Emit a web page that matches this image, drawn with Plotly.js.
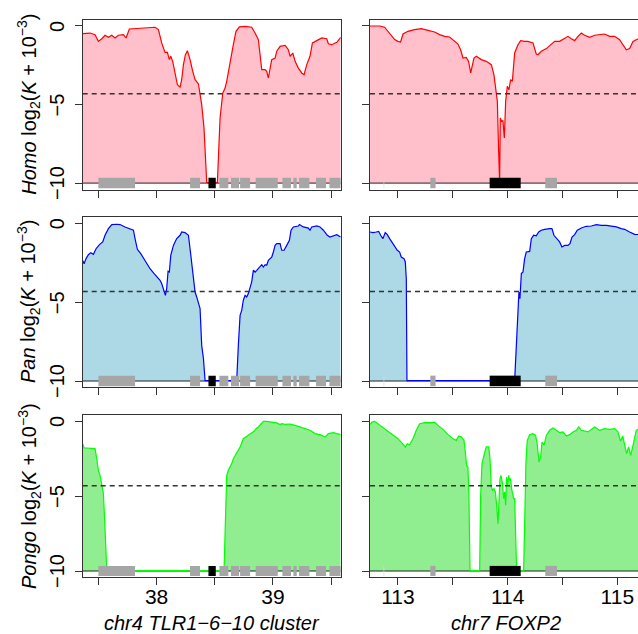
<!DOCTYPE html>
<html>
<head>
<meta charset="utf-8">
<script src="https://cdn.plot.ly/plotly-3.0.1.min.js"></script>
<style>
html, body { margin:0; padding:0; overflow:hidden; background:#fff; }
#chart { width:680px; height:634px; }
</style>
</head>
<body>
<div id="chart"></div>
<script>
// ---------- DATA (log2(K + 1e-3) along genomic position, Mb) ----------
const homoTlrX = [37.365,37.428,37.471,37.500,37.529,37.557,37.586,37.615,37.643,37.672,37.715,37.738,37.766,37.830,37.915,37.987,38.016,38.044,38.073,38.093,38.110,38.122,38.139,38.159,38.179,38.202,38.216,38.231,38.248,38.265,38.288,38.311,38.331,38.360,38.374,38.388,38.408,38.417,38.425,38.431,38.523,38.534,38.546,38.569,38.589,38.603,38.632,38.660,38.683,38.712,38.761,38.818,38.847,38.875,38.890,38.904,38.933,38.947,38.961,38.976,38.990,39.019,39.033,39.062,39.105,39.133,39.148,39.171,39.191,39.219,39.248,39.268,39.291,39.319,39.340,39.377,39.420,39.463,39.477,39.506,39.549,39.583];
const homoTlrY = [-0.49,-0.45,-0.55,-0.98,-0.81,-0.59,-0.72,-0.59,-0.76,-0.59,-0.55,-0.76,-0.19,-0.17,-0.13,-0.08,-0.23,-1.08,-1.68,-1.68,-2.14,-1.93,-2.25,-2.89,-3.74,-3.89,-3.42,-2.46,-1.83,-1.57,-2.14,-2.89,-3.42,-3.69,-4.27,-5.01,-6.50,-7.56,-9.04,-9.97,-9.97,-7.98,-5.86,-4.27,-3.95,-3.52,-2.25,-1.19,-0.34,-0.06,-0.02,-0.08,-0.45,-0.87,-1.83,-2.78,-2.78,-2.89,-3.31,-2.68,-2.14,-2.04,-1.61,-1.30,-1.23,-1.51,-1.93,-1.72,-2.25,-2.68,-2.99,-3.10,-2.46,-1.93,-1.08,-0.93,-0.76,-0.81,-1.13,-1.19,-1.04,-0.72];

const homoFoxX = [112.745,112.833,112.878,112.924,112.970,113.000,113.024,113.046,113.091,113.152,113.213,113.274,113.334,113.380,113.426,113.471,113.517,113.547,113.571,113.593,113.623,113.644,113.663,113.675,113.693,113.714,113.760,113.805,113.851,113.875,113.897,113.906,113.918,113.927,113.933,113.945,113.957,113.970,113.982,113.997,114.012,114.027,114.043,114.064,114.094,114.119,114.155,114.185,114.231,114.261,114.277,114.307,114.353,114.398,114.429,114.474,114.520,114.550,114.581,114.611,114.641,114.672,114.702,114.748,114.793,114.839,114.884,114.930,114.976,115.021,115.052,115.082,115.112,115.143,115.216];
const homoFoxY = [0,0,-0.08,-0.45,-0.87,-0.98,-1.02,-0.51,-0.34,-0.23,-0.17,-0.28,-0.38,-0.55,-0.66,-0.70,-0.98,-1.15,-1.51,-2.04,-2.00,-2.25,-2.99,-2.68,-2.04,-1.93,-2.14,-2.25,-2.46,-3.10,-4.16,-4.80,-7.98,-9.97,-5.86,-6.07,-6.03,-7.13,-4.80,-3.84,-4.06,-3.42,-3.52,-1.72,-1.19,-0.93,-0.98,-0.98,-1.08,-1.78,-1.83,-1.61,-1.44,-1.19,-0.98,-0.98,-0.81,-0.66,-0.81,-0.93,-0.66,-0.45,-0.59,-0.72,-0.59,-0.55,-0.51,-0.66,-0.66,-0.87,-1.23,-1.51,-1.44,-0.98,-0.72];

const panTlrX = [37.365,37.377,37.394,37.414,37.434,37.457,37.480,37.509,37.537,37.557,37.586,37.615,37.658,37.686,37.729,37.772,37.801,37.815,37.835,37.864,37.901,37.944,37.979,38.007,38.030,38.044,38.059,38.076,38.087,38.099,38.110,38.122,38.145,38.173,38.202,38.216,38.245,38.274,38.288,38.302,38.317,38.331,38.345,38.360,38.374,38.388,38.403,38.417,38.689,38.703,38.718,38.732,38.746,38.761,38.775,38.789,38.804,38.818,38.832,38.847,38.861,38.875,38.890,38.904,38.918,38.933,38.947,38.961,38.976,38.990,39.004,39.019,39.033,39.062,39.076,39.096,39.119,39.142,39.156,39.176,39.219,39.228,39.262,39.305,39.319,39.334,39.377,39.405,39.434,39.468,39.491,39.520,39.549,39.583];
const panTlrY = [-2.35,-2.56,-2.24,-1.99,-1.86,-1.97,-1.61,-1.35,-1.18,-0.76,-0.34,-0.08,-0.06,-0.08,-0.23,-0.34,-0.44,-0.97,-1.65,-1.92,-2.35,-2.88,-3.19,-3.40,-3.61,-3.82,-4.25,-4.57,-4.14,-3.04,-3.09,-2.03,-1.40,-0.97,-0.76,-0.55,-0.59,-0.76,-1.61,-2.45,-3.61,-4.36,-4.67,-5.10,-5.41,-7.74,-8.58,-9.97,-9.97,-7.74,-5.84,-5.52,-4.88,-4.57,-4.67,-4.46,-4.04,-3.72,-2.98,-3.09,-2.98,-2.88,-2.77,-2.62,-2.77,-2.62,-2.66,-2.35,-2.24,-2.14,-1.82,-1.40,-1.29,-1.29,-1.71,-1.71,-1.40,-1.08,-0.44,-0.23,-0.17,-0.08,-0.23,-0.30,-0.44,-0.23,-0.17,-0.23,-0.44,-0.76,-0.87,-0.80,-0.72,-0.87];

const panFoxX = [112.745,112.772,112.802,112.824,112.842,112.863,112.884,112.903,112.924,112.945,112.970,112.994,113.015,113.030,113.055,113.067,113.076,113.082,114.064,114.079,114.094,114.103,114.112,114.125,114.140,114.155,114.170,114.201,114.216,114.237,114.261,114.283,114.307,114.337,114.383,114.404,114.422,114.444,114.474,114.495,114.520,114.550,114.568,114.587,114.611,114.635,114.672,114.717,114.763,114.809,114.854,114.900,114.945,114.991,115.036,115.067,115.112,115.158,115.216];
const panFoxY = [-0.55,-0.59,-0.55,-0.51,-0.76,-0.97,-0.59,-0.72,-0.97,-1.18,-1.40,-1.71,-1.82,-2.14,-2.24,-2.45,-3.51,-9.97,-9.97,-7.74,-4.99,-4.36,-4.78,-3.19,-3.09,-2.24,-1.82,-1.78,-0.97,-0.76,-0.80,-0.55,-0.44,-0.38,-0.34,-0.34,-0.76,-0.97,-1.18,-1.50,-1.40,-1.40,-1.29,-0.87,-0.72,-0.44,-0.30,-0.19,-0.17,-0.08,-0.13,-0.13,-0.17,-0.23,-0.34,-0.38,-0.55,-0.70,-0.72];

const pongoTlrX = [37.365,37.377,37.400,37.443,37.471,37.486,37.500,37.514,37.529,37.543,37.557,37.572,38.580,38.595,38.603,38.617,38.632,38.646,38.660,38.689,38.718,38.746,38.775,38.809,38.838,38.855,38.875,38.904,38.918,38.947,38.990,39.033,39.062,39.076,39.105,39.148,39.191,39.234,39.277,39.319,39.362,39.405,39.448,39.477,39.520,39.549,39.583];
const pongoTlrY = [-1.51,-1.80,-1.80,-1.80,-1.84,-2.51,-3.29,-3.62,-4.40,-4.84,-7.18,-9.97,-9.97,-6.07,-3.62,-3.29,-3.07,-2.84,-2.51,-2.07,-1.73,-1.18,-1.00,-0.84,-0.69,-0.51,-0.40,-0.18,-0.02,-0.02,-0.07,-0.13,-0.24,-0.18,-0.22,-0.20,-0.29,-0.40,-0.51,-0.62,-0.84,-0.91,-1.07,-0.84,-0.78,-0.84,-0.91];

const pongoFoxX = [112.745,112.763,112.787,112.818,112.878,112.939,113.000,113.055,113.067,113.085,113.106,113.137,113.167,113.198,113.243,113.304,113.334,113.365,113.410,113.456,113.502,113.532,113.553,113.578,113.602,113.614,113.626,113.638,113.647,113.657,113.745,113.754,113.766,113.784,113.805,113.827,113.839,113.851,113.863,113.875,113.888,113.900,113.912,113.921,113.930,113.939,113.951,113.964,113.973,113.982,113.991,114.000,114.009,114.018,114.027,114.036,114.046,114.055,114.064,114.073,114.082,114.146,114.155,114.167,114.179,114.201,114.231,114.255,114.271,114.286,114.301,114.313,114.331,114.353,114.383,114.413,114.444,114.474,114.505,114.535,114.565,114.596,114.626,114.647,114.672,114.702,114.733,114.763,114.793,114.839,114.884,114.930,114.976,115.006,115.030,115.049,115.067,115.085,115.103,115.122,115.143,115.158,115.173,115.216];
const pongoFoxY = [-0.24,-0.07,-0.02,-0.18,-0.51,-0.84,-1.18,-1.62,-1.73,-1.51,-1.58,-1.18,-0.62,-0.18,-0.11,-0.11,-0.07,-0.29,-0.56,-0.91,-1.18,-1.29,-1.00,-1.07,-1.29,-2.07,-2.96,-3.07,-4.96,-9.97,-9.97,-4.96,-2.84,-2.29,-1.73,-1.73,-2.51,-4.40,-4.62,-4.51,-4.73,-5.62,-6.84,-5.40,-3.84,-3.62,-4.07,-5.18,-4.73,-5.62,-3.73,-4.29,-3.62,-3.96,-3.84,-4.51,-4.84,-5.18,-5.18,-8.29,-9.97,-9.97,-6.07,-2.73,-1.29,-0.91,-0.84,-0.96,-1.62,-2.73,-2.40,-1.40,-1.62,-0.96,-0.62,-0.47,-0.62,-0.78,-0.73,-1.00,-0.91,-0.73,-0.62,-0.40,-0.62,-0.69,-0.73,-0.56,-0.40,-0.62,-0.51,-0.56,-0.51,-0.73,-1.36,-1.00,-1.51,-2.18,-1.73,-2.29,-1.62,-1.07,-0.62,-0.47];

// significance threshold (log2 scale)
const threshold = -4.32;

// gene annotations (Mb)
const tlrGeneStart = [37.500,38.288,38.540,38.640,38.718,38.852,39.082,39.176,39.225,39.371,39.486];
const tlrGeneEnd   = [37.815,38.374,38.617,38.709,38.804,39.042,39.156,39.205,39.314,39.457,39.583];
const tlrFocalStart = [38.446];
const tlrFocalEnd   = [38.509];
const foxGeneStart = [113.295,114.343];
const foxGeneEnd   = [113.343,114.450];
const foxFaintStart = [112.869];
const foxFaintEnd   = [112.875];
const foxFocalStart = [113.836];
const foxFocalEnd   = [114.119];

// tick positions and labels
const tlrMajorTicks = [38,39];
const tlrMajorText = ['38','39'];
const tlrMinorTicks = [37.5,38.5,39.5];
const foxMajorTicks = [113,114,115];
const foxMajorText = ['113','114','115'];
const foxMinorTicks = [113.5,114.5];
const yTickVals = [-10,-5,0];
const yTickText = ['\u221210','\u22125','0'];

const species = ['Homo','Pan','Pongo'];
const regionTitles = ['<i>chr4 TLR1\u22126\u221210 cluster</i>','<i>chr7 FOXP2</i>'];

// ---------- LAYOUT / STYLE ----------
const W = 680, H = 634;
const colPx = [[82.7,340.7],[370,641]];
const rowPx = [[19.7,189.7],[217,387],[415,577]];
const xRanges = [[37.365,39.583],[112.745,115.216]];
const yRanges = [[-10.42,0.4],[-10.38,0.4],[-10.4,0.4]];
const lineColors = ['#FF0000','#0000FF','#00FF00'];
const fillColors = ['#FFC0CB','#ADD8E6','#90EE90'];
const boxTop = -9.66, boxBot = -10.33;
const FONT = 'Liberation Sans, Arial, Helvetica, sans-serif';

const series = [
  [[homoTlrX,homoTlrY],[homoFoxX,homoFoxY]],
  [[panTlrX,panTlrY],[panFoxX,panFoxY]],
  [[pongoTlrX,pongoTlrY],[pongoFoxX,pongoFoxY]]
];

const traces = [];
const shapes = [];
const annotations = [];
const layout = {
  width: W, height: H,
  margin: {l:0,r:0,t:0,b:0},
  paper_bgcolor: '#fff', plot_bgcolor: '#fff',
  showlegend: false,
  font: {family: FONT, size: 20, color: '#000'}
};

for (let r = 0; r < 3; r++) {
  for (let c = 0; c < 2; c++) {
    const i = r*2 + c + 1;
    const xa = 'x' + i, ya = 'y' + i;
    const xr = xRanges[c];
    const [X, Y] = series[r][c];
    // baseline at -10 (polygon bottom edge)
    traces.push({
      x: [xr[0], xr[1]], y: [-10, -10], xaxis: xa, yaxis: ya,
      mode: 'lines', line: {color: '#222', width: 1}, hoverinfo: 'skip'
    });
    traces.push({
      x: X, y: Y, xaxis: xa, yaxis: ya, mode: 'lines',
      line: {color: lineColors[r], width: 1.2},
      fill: 'tonexty', fillcolor: fillColors[r], hoverinfo: 'skip'
    });
    // threshold dashed line
    shapes.push({type:'line', xref: xa + ' domain', yref: ya, x0: 0, x1: 1, y0: threshold, y1: threshold,
      line: {color: '#333', width: 1.5, dash: '5px,4px'}, layer: 'above'});
    // genes
    const addBoxes = (s, e, color) => {
      for (let k = 0; k < s.length; k++) {
        shapes.push({type:'rect', xref: xa, yref: ya, x0: s[k], x1: e[k], y0: boxBot, y1: boxTop,
          fillcolor: color, line: {width: 0}, layer: 'above'});
      }
    };
    if (c === 0) {
      addBoxes(tlrGeneStart, tlrGeneEnd, '#A6A6A6');
      addBoxes(tlrFocalStart, tlrFocalEnd, '#000000');
    } else {
      addBoxes(foxFaintStart, foxFaintEnd, '#D9D9D9');
      addBoxes(foxGeneStart, foxGeneEnd, '#A6A6A6');
      addBoxes(foxFocalStart, foxFocalEnd, '#000000');
    }
    layout['xaxis' + (i === 1 ? '' : i)] = {
      domain: [colPx[c][0]/W, colPx[c][1]/W], range: xr, anchor: ya,
      showgrid: false, zeroline: false, showline: true, mirror: true,
      linecolor: '#333', linewidth: 1, ticks: 'outside', ticklen: 7, tickwidth: 1, tickcolor: '#333',
      tickmode: 'array', tickvals: c === 0 ? tlrMajorTicks : foxMajorTicks,
      ticktext: c === 0 ? tlrMajorText : foxMajorText,
      minor: {tickmode: 'array', tickvals: c === 0 ? tlrMinorTicks : foxMinorTicks,
              ticks: 'outside', ticklen: 7, tickwidth: 1, tickcolor: '#333', showgrid: false},
      showticklabels: r === 2, tickfont: {size: 21, family: FONT},
      ticklabelstandoff: -6
    };
    layout['yaxis' + (i === 1 ? '' : i)] = {
      domain: [1 - rowPx[r][1]/H, 1 - rowPx[r][0]/H], range: yRanges[r], anchor: xa,
      showgrid: false, zeroline: false, showline: true, mirror: true,
      linecolor: '#333', linewidth: 1, ticks: 'outside', ticklen: 7, tickwidth: 1, tickcolor: '#333',
      tickmode: 'array', tickvals: yTickVals, showticklabels: false
    };
    // rotated y tick labels (left column), placed through the y axis scale
    if (c === 0) {
      for (let k = 0; k < yTickVals.length; k++) {
        annotations.push({
          xref: 'paper', yref: ya, x: 57/W, y: yTickVals[k],
          xanchor: 'center', yanchor: 'middle', textangle: -90, showarrow: false,
          text: yTickText[k], font: {size: 20, family: FONT, color: '#000'}
        });
      }
    }
  }
  annotations.push({
    xref: 'paper', yref: 'paper', x: 29/W, y: 1 - (rowPx[r][0] + rowPx[r][1])/2/H,
    xanchor: 'center', yanchor: 'middle', textangle: -90, showarrow: false,
    text: '<i>' + species[r] + '</i> log<sub>2</sub>(<i>K</i> + 10<sup>\u22123</sup>)',
    font: {size: 20, family: FONT, color: '#000'}
  });
}
for (let c = 0; c < 2; c++) {
  annotations.push({
    xref: 'paper', yref: 'paper', x: (colPx[c][0] + colPx[c][1])/2/W, y: 1 - 623/H,
    xanchor: 'center', yanchor: 'middle', showarrow: false,
    text: regionTitles[c], font: {size: 20, family: FONT, color: '#000'}
  });
}
layout.shapes = shapes;
layout.annotations = annotations;

Plotly.newPlot('chart', traces, layout, {staticPlot: true, displayModeBar: false});
</script>
</body>
</html>
